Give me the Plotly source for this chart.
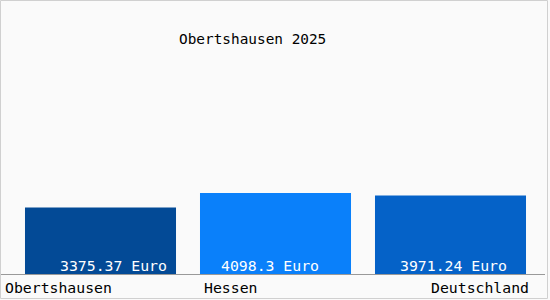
import plotly.graph_objects as go

categories = ["Obertshausen", "Hessen", "Deutschland"]
values = [3375.37, 4098.3, 3971.24]
value_labels = ["3375.37 Euro", "4098.3 Euro", "3971.24 Euro"]
colors = ["#034a96", "#0a80fa", "#0562c8"]
title = "Obertshausen 2025"

W, H = 550, 300
ML, MR, MT, MB = 13, 12, 55, 25
PW, PH = W - ML - MR, H - MT - MB
FONT = "DejaVu Sans Mono"

def px(xp):
    return (xp - ML) / PW

def py(yp):
    return (H - MB - yp) / PH

fig = go.Figure()
fig.add_trace(go.Bar(
    x=list(range(len(categories))), y=values,
    marker=dict(color=colors, line=dict(width=0)),
    width=0.863, hoverinfo="skip",
))

label_shift = [13, -6, 3]
for i, (lab, s) in enumerate(zip(value_labels, label_shift)):
    fig.add_annotation(x=i, y=0, yref="y", text=lab, showarrow=False,
                       xanchor="center", yanchor="bottom", xshift=s, yshift=-1,
                       font=dict(family=FONT, size=14.8, color="white"))

cat_pos = [(3, "left"), (202, "left"), (531, "right")]
for c, (xp, anc) in zip(categories, cat_pos):
    fig.add_annotation(x=px(xp), y=py(287), xref="paper", yref="paper", text=c,
                       showarrow=False, xanchor=anc, yanchor="middle",
                       font=dict(family=FONT, size=14.8, color="black"))

fig.add_annotation(x=px(252.5), y=py(39), xref="paper", yref="paper", text=title,
                   showarrow=False, xanchor="center", yanchor="middle",
                   font=dict(family=FONT, size=14.4, color="black"))

fig.add_shape(type="line", xref="paper", yref="paper",
              x0=px(0), x1=px(545), y0=py(274.5), y1=py(274.5),
              line=dict(color="#999999", width=1))
fig.add_shape(type="rect", xref="paper", yref="paper",
              x0=px(0.5), x1=px(547.5), y0=py(0.5), y1=py(298.5),
              line=dict(color="#d0d0d0", width=1))

fig.update_layout(
    width=W, height=H, margin=dict(l=ML, r=MR, t=MT, b=MB),
    paper_bgcolor="#fafafa", plot_bgcolor="#fafafa",
    showlegend=False,
    xaxis=dict(range=[-0.5, 2.5], visible=False, fixedrange=True),
    yaxis=dict(range=[0, 11000], visible=False, fixedrange=True),
)
fig.write_html("out.html", config={"displayModeBar": False})
